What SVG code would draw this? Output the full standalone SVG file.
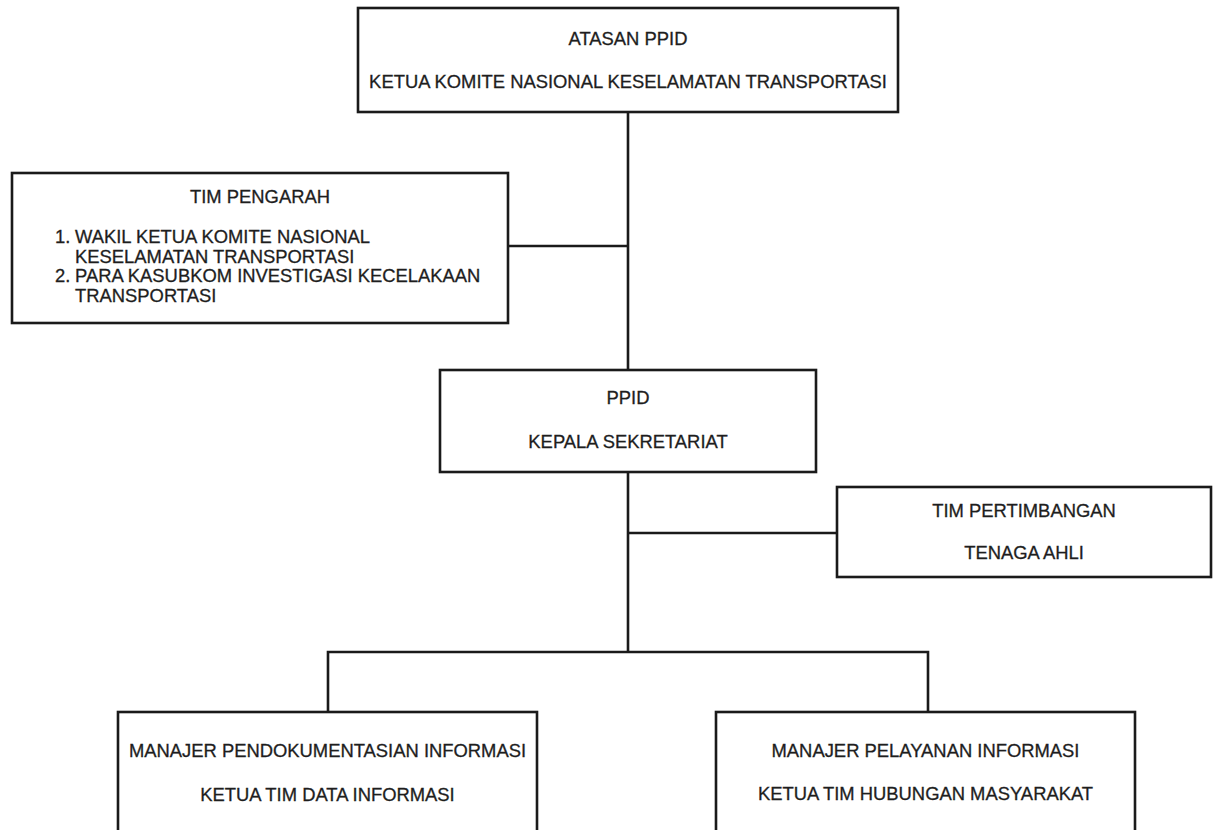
<svg xmlns="http://www.w3.org/2000/svg" width="1217" height="830" viewBox="0 0 1217 830">
<style>
.box{fill:#fff;stroke:#1a1a1a;stroke-width:2.6}
.t{font-family:"Liberation Sans",Arial,sans-serif;font-size:18.4px;fill:#1e1e1e;stroke:#1e1e1e;stroke-width:0.3}
.c{text-anchor:middle}
.ln{stroke:#1a1a1a;stroke-width:2.6;fill:none}
</style>
<rect width="1217" height="830" fill="#fff"/>
<g id="connectors">
<line class="ln" x1="628" y1="112" x2="628" y2="370"/>
<line class="ln" x1="508" y1="246" x2="628" y2="246"/>
<line class="ln" x1="628" y1="472" x2="628" y2="652"/>
<line class="ln" x1="628" y1="533" x2="837" y2="533"/>
<polyline class="ln" points="328,712 328,652 928,652 928,712"/>
</g>
<g id="atasan">
<rect class="box" x="358" y="8" width="540" height="104"/>
<text class="t c" x="628" y="45">ATASAN PPID</text>
<text class="t c" x="628" y="88">KETUA KOMITE NASIONAL KESELAMATAN TRANSPORTASI</text>
</g>
<g id="pengarah">
<rect class="box" x="12" y="173" width="496" height="150"/>
<text class="t c" x="260" y="203">TIM PENGARAH</text>
<text class="t" x="55" y="243">1.</text>
<text class="t" x="75" y="243">WAKIL KETUA KOMITE NASIONAL</text>
<text class="t" x="75" y="262.5">KESELAMATAN TRANSPORTASI</text>
<text class="t" x="55" y="282">2.</text>
<text class="t" x="75" y="282">PARA KASUBKOM INVESTIGASI KECELAKAAN</text>
<text class="t" x="75" y="301.5">TRANSPORTASI</text>
</g>
<g id="ppid">
<rect class="box" x="440" y="370" width="376" height="102"/>
<text class="t c" x="628" y="404">PPID</text>
<text class="t c" x="628" y="448">KEPALA SEKRETARIAT</text>
</g>
<g id="pertimbangan">
<rect class="box" x="837" y="487" width="374" height="90"/>
<text class="t c" x="1024" y="516.5">TIM PERTIMBANGAN</text>
<text class="t c" x="1024" y="559">TENAGA AHLI</text>
</g>
<g id="pendokumentasian">
<rect class="box" x="118" y="712" width="419" height="130"/>
<text class="t c" x="327.5" y="757">MANAJER PENDOKUMENTASIAN INFORMASI</text>
<text class="t c" x="327.5" y="801">KETUA TIM DATA INFORMASI</text>
</g>
<g id="pelayanan">
<rect class="box" x="716" y="712" width="419" height="130"/>
<text class="t c" x="925.5" y="757">MANAJER PELAYANAN INFORMASI</text>
<text class="t c" x="925.5" y="800">KETUA TIM HUBUNGAN MASYARAKAT</text>
</g>
</svg>
